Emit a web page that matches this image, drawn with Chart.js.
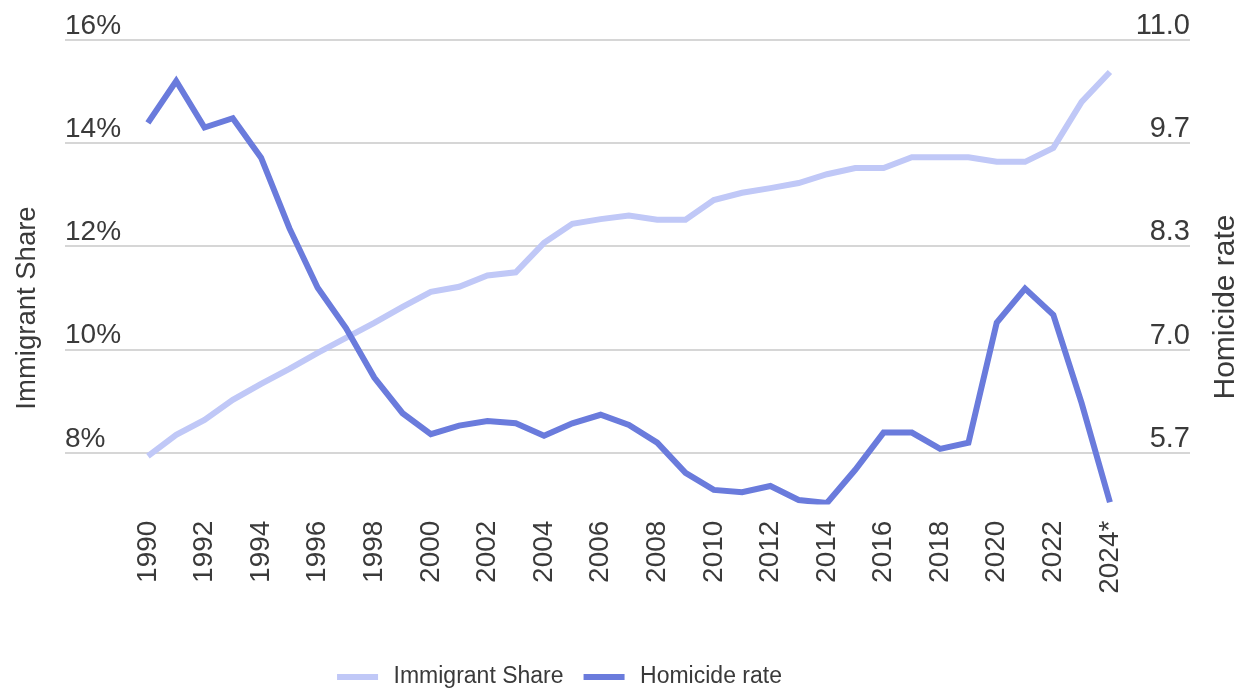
<!DOCTYPE html>
<html>
<head>
<meta charset="utf-8">
<script src="https://cdn.jsdelivr.net/npm/chart.js@4/dist/chart.umd.min.js"></script>
<style>
  html, body { margin: 0; padding: 0; background: #fff; }
  #wrap { width: 1247px; height: 692px; position: relative; }
</style>
</head>
<body>
<div id="wrap"><canvas id="chart"></canvas></div>
<script>
// years on the x axis (2024 is preliminary, shown as "2024*")
const years = [1990, 1991, 1992, 1993, 1994, 1995, 1996, 1997, 1998, 1999,
  2000, 2001, 2002, 2003, 2004, 2005, 2006, 2007, 2008, 2009,
  2010, 2011, 2012, 2013, 2014, 2015, 2016, 2017, 2018, 2019,
  2020, 2021, 2022, 2023, 2024];
const tickYears = [1990, 1992, 1994, 1996, 1998, 2000, 2002, 2004, 2006, 2008,
  2010, 2012, 2014, 2016, 2018, 2020, 2022, 2024];

// immigrant share of population, percent (left axis)
const immigrantShare = [7.94, 8.35, 8.64, 9.03, 9.34, 9.63, 9.94, 10.23, 10.52, 10.83,
  11.12, 11.22, 11.44, 11.5, 12.07, 12.44, 12.53, 12.6, 12.52, 12.52,
  12.9, 13.04, 13.13, 13.23, 13.4, 13.52, 13.52, 13.73, 13.73, 13.73,
  13.64, 13.64, 13.91, 14.8, 15.38];

// homicide rate per 100k (right axis)
const homicideRate = [9.93, 10.47, 9.87, 9.99, 9.48, 8.57, 7.8, 7.28, 6.64, 6.18,
  5.91, 6.02, 6.08, 6.05, 5.89, 6.05, 6.16, 6.03, 5.8, 5.41,
  5.19, 5.16, 5.24, 5.06, 5.02, 5.45, 5.93, 5.93, 5.72, 5.8,
  7.35, 7.79, 7.45, 6.31, 5.03];

const leftTicks = [8, 10, 12, 14, 16];
const rightTicks = [17 / 3, 7, 25 / 3, 29 / 3, 11];

const FONT = "'Liberation Sans', Arial, sans-serif";
const TEXT = '#3a3a3a';

// axis titles, both reading bottom-to-top
const axisTitles = {
  id: 'axisTitles',
  afterLayout(chart) {
    // legend sits left of centre in the original
    chart.legend.right -= 140;
  },
  afterDraw(chart) {
    const ctx = chart.ctx;
    ctx.save();
    ctx.fillStyle = TEXT;
    ctx.textAlign = 'center';
    ctx.textBaseline = 'middle';
    [['Immigrant Share', 27, 308, 27.5], ['Homicide rate', 1226, 307, 30]].forEach(([t, x, y, size]) => {
      ctx.save();
      ctx.font = size + 'px ' + FONT;
      ctx.translate(x, y);
      ctx.rotate(-Math.PI / 2);
      ctx.fillText(t, 0, 0);
      ctx.restore();
    });
    ctx.restore();
  }
};

new Chart(document.getElementById('chart'), {
  type: 'line',
  data: {
    datasets: [
      {
        label: 'Immigrant Share',
        data: years.map((y, i) => ({ x: y, y: immigrantShare[i] })),
        borderColor: '#c0c8f7',
        backgroundColor: '#c0c8f7',
        yAxisID: 'y',
        order: 1
      },
      {
        label: 'Homicide rate',
        data: years.map((y, i) => ({ x: y, y: homicideRate[i] })),
        borderColor: '#6a7bdc',
        backgroundColor: '#6a7bdc',
        yAxisID: 'y1',
        order: 0
      }
    ]
  },
  options: {
    responsive: true,
    maintainAspectRatio: false,
    animation: false,
    layout: { padding: { left: 65, right: 57, top: 40, bottom: -6.5 } },
    elements: {
      line: { borderWidth: 6, tension: 0, borderJoinStyle: 'miter', borderCapStyle: 'butt' },
      point: { radius: 0 }
    },
    scales: {
      x: {
        type: 'linear',
        min: 1987.07,
        max: 2026.83,
        grid: { display: false },
        border: { display: false },
        afterBuildTicks: s => { s.ticks = tickYears.map(v => ({ value: v })); },
        afterFit: s => { s.height = 144.9; },
        ticks: {
          autoSkip: false,
          minRotation: 90,
          maxRotation: 90,
          padding: 8,
          color: TEXT,
          font: { family: FONT, size: 28 },
          callback: v => (v === 2024 ? '2024*' : String(v))
        }
      },
      y: {
        position: 'left',
        min: 7,
        max: 16,
        afterBuildTicks: s => { s.ticks = leftTicks.map(v => ({ value: v })); },
        grid: { color: '#d6d6d6', lineWidth: 2, drawTicks: false },
        border: { display: false },
        ticks: {
          mirror: true,
          padding: 0,
          labelOffset: -14,
          color: TEXT,
          font: { family: FONT, size: 28 },
          callback: v => v + '%'
        }
      },
      y1: {
        position: 'right',
        min: 5,
        max: 11,
        afterBuildTicks: s => { s.ticks = rightTicks.map(v => ({ value: v })); },
        grid: { display: false, drawTicks: false },
        border: { display: false },
        ticks: {
          mirror: true,
          padding: 0,
          labelOffset: -14,
          color: TEXT,
          font: { family: FONT, size: 29 },
          callback: v => v.toFixed(1)
        }
      }
    },
    plugins: {
      legend: {
        position: 'bottom',
        labels: {
          // white stroke trims the 49x14 box down to a 41x6 bar and leaves a gap before the text
          boxWidth: 49,
          boxHeight: 14,
          padding: 16,
          color: TEXT,
          font: { family: FONT, size: 23 },
          sort: (a, b) => a.datasetIndex - b.datasetIndex,
          generateLabels: chart => Chart.defaults.plugins.legend.labels.generateLabels(chart)
            .map(l => Object.assign(l, { lineWidth: 8, strokeStyle: '#ffffff' }))
        }
      },
      tooltip: { enabled: false }
    }
  },
  plugins: [axisTitles]
});
</script>
</body>
</html>
